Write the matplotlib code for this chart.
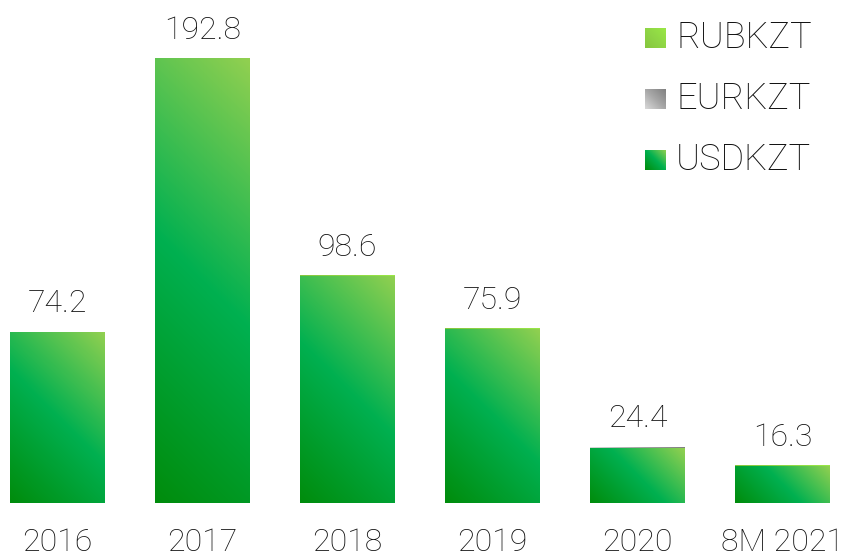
import numpy as np
import matplotlib.pyplot as plt
from matplotlib.colors import LinearSegmentedColormap

# data (bn KZT)
years = ['2016', '2017', '2018', '2019', '2020', '8M 2021']
usdkzt = [74.2, 192.8, 98.4, 75.4, 23.8, 16.1]
eurkzt = [0.0, 0.0, 0.0, 0.0, 0.6, 0.0]
rubkzt = [0.0, 0.0, 0.2, 0.5, 0.0, 0.2]

W, H, DPI = 846, 556, 100
plt.rcParams['font.family'] = ['Roboto', 'DejaVu Sans']
txt = '#111111'
fw = 'light'

cmaps = {
    'USDKZT': LinearSegmentedColormap.from_list('usd', ['#008c0c', '#00b050', '#92d050']),
    'EURKZT': LinearSegmentedColormap.from_list('eur', ['#d8d8d8', '#a6a6a6', '#7f7f7f']),
    'RUBKZT': LinearSegmentedColormap.from_list('rub', ['#86c63e', '#8fd646', '#9ae845']),
}

fig = plt.figure(figsize=(W / DPI, H / DPI), dpi=DPI)
base_px = 503
ax = fig.add_axes([0, (H - base_px) / H, 1, base_px / H])
px_per_unit = 445 / 192.8
x0 = -57.5 / 145
ax.axis('off')

x = np.arange(len(years))
width = 0.655


def grad_fill(ax, rect, cmap):
    # diagonal gradient in screen space, clipped to the bar
    bx, by = rect.get_x(), rect.get_y()
    bw, bh = rect.get_width(), rect.get_height()
    if bh <= 0:
        return
    wpx = bw * 145
    hpx = bh * px_per_unit
    nx, ny = max(int(wpx), 2), max(int(hpx), 2)
    xs = np.linspace(0, wpx, nx)
    ys = np.linspace(hpx, 0, ny)
    gx, gy = np.meshgrid(xs, ys)
    t = (gx + gy) / (wpx + hpx)
    im = ax.imshow(t, cmap=cmap, vmin=0, vmax=1, extent=(bx, bx + bw, by, by + bh),
                   aspect='auto', interpolation='bilinear', zorder=2)
    im.set_clip_path(rect)
    rect.set_alpha(0)


bottom = np.zeros(len(years))
for name, vals in [('USDKZT', usdkzt), ('EURKZT', eurkzt), ('RUBKZT', rubkzt)]:
    bars = ax.bar(x, vals, width, bottom=bottom, linewidth=0, zorder=1)
    for r in bars:
        grad_fill(ax, r, cmaps[name])
    bottom += np.array(vals)

ax.set_xlim(x0, x0 + W / 145)
ax.set_ylim(0, base_px / px_per_unit)

totals = bottom
for xi, tot in zip(x, totals):
    ax.annotate(f'{tot:.1f}', (xi, tot), xytext=(0, 20), textcoords='offset points',
                ha='center', va='center', fontsize=23, fontweight=fw, color=txt)

for xi, lab in zip(x, years):
    ax.annotate(lab, (xi, 0), xytext=(0, -28.5), textcoords='offset points',
                ha='center', va='center', fontsize=23, fontweight=fw, color=txt,
                annotation_clip=False)

# legend
for i, name in enumerate(['RUBKZT', 'EURKZT', 'USDKZT']):
    yc = H - (38 + 61 * i)
    lax = fig.add_axes([645 / W, (yc - 10.5) / H, 21 / W, 21 / H])
    g = np.linspace(0, 1, 32)
    gx, gy = np.meshgrid(g, g[::-1])
    lax.imshow((gx + gy) / 2, cmap=cmaps[name], vmin=0, vmax=1, aspect='auto')
    lax.axis('off')
    fig.text(676 / W, yc / H, name, ha='left', va='center', fontsize=26,
             fontweight=fw, color=txt)

fig.savefig('out.png', dpi=DPI)
